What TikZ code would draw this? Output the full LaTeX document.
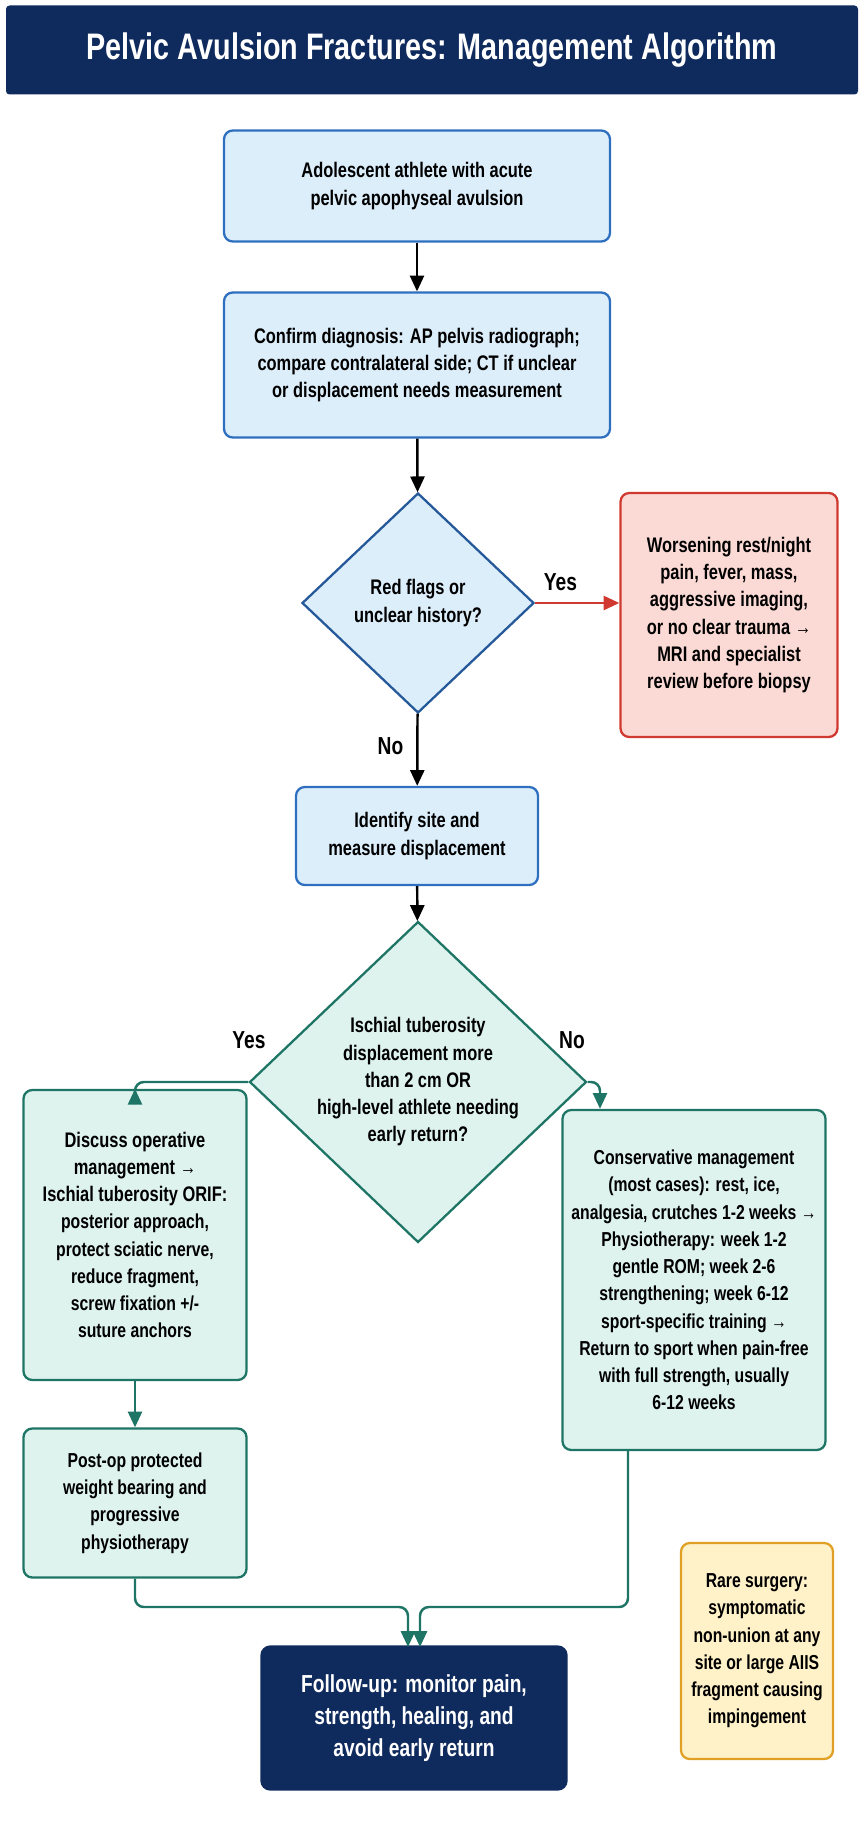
\documentclass[tikz,border=0pt]{standalone}
\usepackage{fontspec}
\setmainfont{Liberation Sans}[FakeStretch=0.78]
\usetikzlibrary{arrows.meta,shapes.geometric}
\definecolor{navy}{HTML}{0F2A5C}
\definecolor{bluefill}{HTML}{DDEEFB}
\definecolor{blueline}{HTML}{2F6FC0}
\definecolor{redfill}{HTML}{FBDAD5}
\definecolor{redline}{HTML}{D0392F}
\definecolor{greenfill}{HTML}{DEF3EE}
\definecolor{greenline}{HTML}{1E7566}
\definecolor{orangefill}{HTML}{FFF2C8}
\definecolor{orangeline}{HTML}{E0A025}
\tikzset{
  box/.style={rectangle,rounded corners=5pt,line width=1.3pt,align=center,font=\bfseries\fontsize{12}{15.5}\selectfont},
  bluebox/.style={box,draw=blueline,fill=bluefill},
  greenbox/.style={box,draw=greenline,fill=greenfill},
  choice/.style={diamond,aspect=1.05,line width=1.3pt,align=center,inner sep=0pt,font=\bfseries\fontsize{12}{15.5}\selectfont},
  flow/.style={->,>={Triangle[length=9pt,width=8pt]},line width=1.4pt,rounded corners=5pt},
  tag/.style={font=\bfseries\fontsize{14}{16}\selectfont}
}
\begin{document}
\begin{tikzpicture}[x=0.02cm,y=-0.02cm]
\useasboundingbox (0,0) rectangle (864,1821);
\node[rectangle,rounded corners=2pt,fill=navy,minimum width=852*0.02cm,minimum height=89*0.02cm,text=white,font=\bfseries\fontsize{21}{24}\selectfont] (T) at (432,50) {Pelvic Avulsion Fractures: Management Algorithm};
\node[bluebox,minimum width=386*0.02cm,minimum height=111*0.02cm] (A) at (417,186) {Adolescent athlete with acute\\pelvic apophyseal avulsion};
\node[bluebox,minimum width=386*0.02cm,minimum height=145*0.02cm] (B) at (417,365) {Confirm diagnosis: AP pelvis radiograph;\\compare contralateral side; CT if unclear\\or displacement needs measurement};
\node[choice,draw=blueline!80!black,fill=bluefill,minimum width=232*0.02cm,minimum height=220*0.02cm] (R) at (418,603) {Red flags or\\unclear history?};
\node[box,draw=redline,fill=redfill,minimum width=217*0.02cm,minimum height=244*0.02cm] (F) at (729,615) {Worsening rest/night\\pain, fever, mass,\\aggressive imaging,\\or no clear trauma →\\MRI and specialist\\review before biopsy};
\node[bluebox,minimum width=242*0.02cm,minimum height=98*0.02cm] (S) at (417,836) {Identify site and\\measure displacement};
\node[choice,draw=greenline,fill=greenfill,minimum width=256*0.02cm,minimum height=290*0.02cm] (I) at (418,1082) {Ischial tuberosity\\displacement more\\than 2 cm OR\\high-level athlete needing\\early return?};
\node[greenbox,minimum width=223*0.02cm,minimum height=290*0.02cm] (O) at (135,1235) {Discuss operative\\management →\\Ischial tuberosity ORIF:\\{\fontsize{11.5}{15.5}\selectfont posterior approach,}\\{\fontsize{11.5}{15.5}\selectfont protect sciatic nerve,}\\{\fontsize{11.5}{15.5}\selectfont reduce fragment,}\\{\fontsize{11.5}{15.5}\selectfont screw fixation +/-}\\{\fontsize{11.5}{15.5}\selectfont suture anchors}};
\node[greenbox,minimum width=263*0.02cm,minimum height=340*0.02cm,font=\bfseries\fontsize{11.5}{15.5}\selectfont] (C) at (694,1280) {Conservative management\\(most cases): rest, ice,\\analgesia, crutches 1-2 weeks →\\Physiotherapy: week 1-2\\gentle ROM; week 2-6\\strengthening; week 6-12\\sport-specific training →\\Return to sport when pain-free\\with full strength, usually\\6-12 weeks};
\node[greenbox,minimum width=223*0.02cm,minimum height=149*0.02cm,font=\bfseries\fontsize{11.5}{15.5}\selectfont] (P) at (135,1503) {Post-op protected\\weight bearing and\\progressive\\physiotherapy};
\node[box,draw=navy,fill=navy,text=white,minimum width=305*0.02cm,minimum height=143*0.02cm,font=\bfseries\fontsize{14}{18}\selectfont] (U) at (414,1718) {Follow-up: monitor pain,\\strength, healing, and\\avoid early return};
\node[box,draw=orangeline,fill=orangefill,minimum width=152*0.02cm,minimum height=216*0.02cm,font=\bfseries\fontsize{11.5}{15.5}\selectfont] (Q) at (757,1651) {Rare surgery:\\symptomatic\\non-union at any\\site or large AIIS\\fragment causing\\impingement};
\coordinate (Lc) at (135,1082);
\coordinate (Rc) at (600,1082);
\coordinate (Lj) at (135,1607);
\coordinate (Rj) at (628,1607);
\draw[flow] (A) -- (B);
\draw[flow] (B) -- (R);
\draw[flow,redline] (R.east) -- node[tag,black,above=3pt,pos=0.3]{Yes} (F.west |- R.east);
\draw[flow] (R) -- node[tag,left=4pt,pos=0.45]{No} (S);
\draw[flow] (S) -- (I);
\draw[flow,greenline] (I.west) -- (Lc) -- (O.north);
\node[tag] at (249,1040) {Yes};
\draw[flow,greenline] (I.east) -- (Rc) -- (Rc |- C.north);
\node[tag] at (572,1040) {No};
\draw[flow,greenline] (O) -- (P);
\draw[flow,greenline] (P.south) -- (Lj) -- (408,1607) -- (408,1647);
\draw[flow,greenline] (Rj |- C.south) -- (Rj) -- (420,1607) -- (420,1647);
\end{tikzpicture}
\end{document}
